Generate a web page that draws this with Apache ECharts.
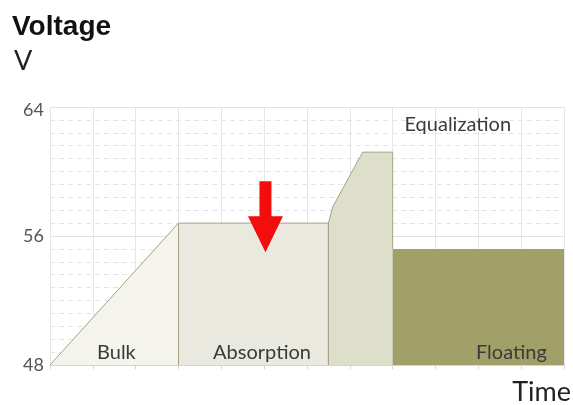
<!DOCTYPE html>
<html>
<head>
<meta charset="utf-8">
<script src="https://cdn.jsdelivr.net/npm/echarts@6/dist/echarts.min.js"></script>
<style>
  html, body { margin: 0; padding: 0; background: #fff; }
  #chart { width: 573px; height: 405px; }
</style>
</head>
<body>
<div id="chart"></div>
<script>
// Charging stages: outline points [time, volts]
var bulkPts = [[0, 48], [3, 56.8]];
var absorptionPts = [[3, 48], [3, 56.8], [6.5, 56.8], [6.5, 48]];
var equalizationPts = [[6.5, 48], [6.5, 56.8], [6.6, 57.8], [7.3, 61.2], [8, 61.2], [8, 55.2]];
var floatingPts = [[8, 48], [8, 55.2], [12, 55.2], [12, 48]];

// Stage names and where they sit [time, volts]
var stageLabels = ['Bulk', 'Absorption', 'Equalization', 'Floating'];
var stageLabelPos = [[1.55, 48.8], [4.95, 48.8], [9.52, 62.9], [11.6, 48.8]];
var stageLabelAlign = ['center', 'center', 'center', 'right'];

// Arrow: [time, volts at tail, volts at tip]
var arrow = [5.03, 59.4, 55.0];

var yTicks = [48, 56, 64];

var fontFamily = 'Lato, "Open Sans", sans-serif';
var edgeColor = '#a3a385';

var chart = echarts.init(document.getElementById('chart'), null, { renderer: 'canvas' });

function areaSeries(name, pts, fill, lineW) {
  return {
    name: name,
    type: 'line',
    data: pts,
    symbol: 'none',
    silent: true,
    z: 2,
    lineStyle: { color: edgeColor, width: lineW },
    areaStyle: { color: fill, opacity: 1, origin: 'start' }
  };
}

chart.setOption({
  animation: false,
  grid: { left: 50, right: 9, top: 107, bottom: 40 },
  xAxis: {
    type: 'value',
    min: 0,
    max: 12,
    interval: 1,
    axisLine: { show: true, lineStyle: { color: '#d4d4d4' } },
    axisTick: { show: true, length: 4, lineStyle: { color: '#d4d4d4' } },
    axisLabel: { show: false },
    splitLine: { show: true, lineStyle: { color: '#e6e6e6', width: 1 } }
  },
  yAxis: {
    type: 'value',
    min: yTicks[0],
    max: yTicks[yTicks.length - 1],
    interval: 8,
    axisLine: { show: false },
    axisTick: { show: false },
    axisLabel: {
      fontFamily: fontFamily,
      fontSize: 18,
      color: '#555',
      margin: 6,
      formatter: function (v) {
        if (yTicks.indexOf(v) < 0) return '';
        return v === yTicks[yTicks.length - 1] ? '{top|' + v + '}' : String(v);
      },
      rich: {
        top: { fontFamily: fontFamily, fontSize: 18, color: '#555', padding: [6, 0, 0, 0] }
      }
    },
    splitLine: { show: true, lineStyle: { color: '#e2e2e2', width: 1 } },
    minorTick: { show: false, splitNumber: 10 },
    minorSplitLine: { show: true, lineStyle: { color: '#e4e4e4', type: [5, 4], width: 1 } }
  },
  graphic: [
    {
      type: 'text',
      left: 12,
      top: 13,
      style: { text: 'Voltage', font: 'bold 28px "Liberation Sans", Arial, sans-serif', fill: '#111' }
    },
    {
      type: 'text',
      left: 14,
      top: 48,
      style: { text: 'V', font: '27px ' + fontFamily, fill: '#222' }
    },
    {
      type: 'text',
      right: 2,
      top: 379,
      style: { text: 'Time', font: '27px ' + fontFamily, fill: '#222' }
    }
  ],
  series: [
    areaSeries('Bulk', bulkPts, '#f4f4ed', 1),
    areaSeries('Absorption', absorptionPts, '#e9e9df', 1),
    areaSeries('Equalization', equalizationPts, '#dedfcb', 1),
    {
      name: 'Floating',
      type: 'line',
      data: floatingPts,
      symbol: 'none',
      silent: true,
      z: 3,
      lineStyle: { color: '#a0a068', width: 0 },
      areaStyle: { color: '#a0a068', opacity: 1, origin: 'start' }
    },
    {
      name: 'labels',
      type: 'custom',
      silent: true,
      z: 5,
      data: stageLabelPos.map(function (p, i) { return [p[0], p[1], i]; }),
      renderItem: function (params, api) {
        var pt = api.coord([api.value(0), api.value(1)]);
        var i = api.value(2);
        return {
          type: 'text',
          x: pt[0],
          y: pt[1],
          style: {
            text: stageLabels[i],
            font: '20px ' + fontFamily,
            fill: '#3a3a3a',
            align: stageLabelAlign[i],
            verticalAlign: 'middle'
          }
        };
      }
    },
    {
      name: 'arrow',
      type: 'custom',
      silent: true,
      z: 6,
      data: [arrow],
      renderItem: function (params, api) {
        var tail = api.coord([api.value(0), api.value(1)]);
        var tip = api.coord([api.value(0), api.value(2)]);
        var x = tail[0];
        var shaftHalf = 6, headHalf = 17.5, headLen = 36;
        var yHead = tip[1] - headLen;
        return {
          type: 'polygon',
          shape: {
            points: [
              [x - shaftHalf, tail[1]], [x + shaftHalf, tail[1]],
              [x + shaftHalf, yHead], [x + headHalf, yHead],
              [x, tip[1]],
              [x - headHalf, yHead], [x - shaftHalf, yHead]
            ]
          },
          style: { fill: '#f40d0d' }
        };
      }
    }
  ]
});
</script>
</body>
</html>
